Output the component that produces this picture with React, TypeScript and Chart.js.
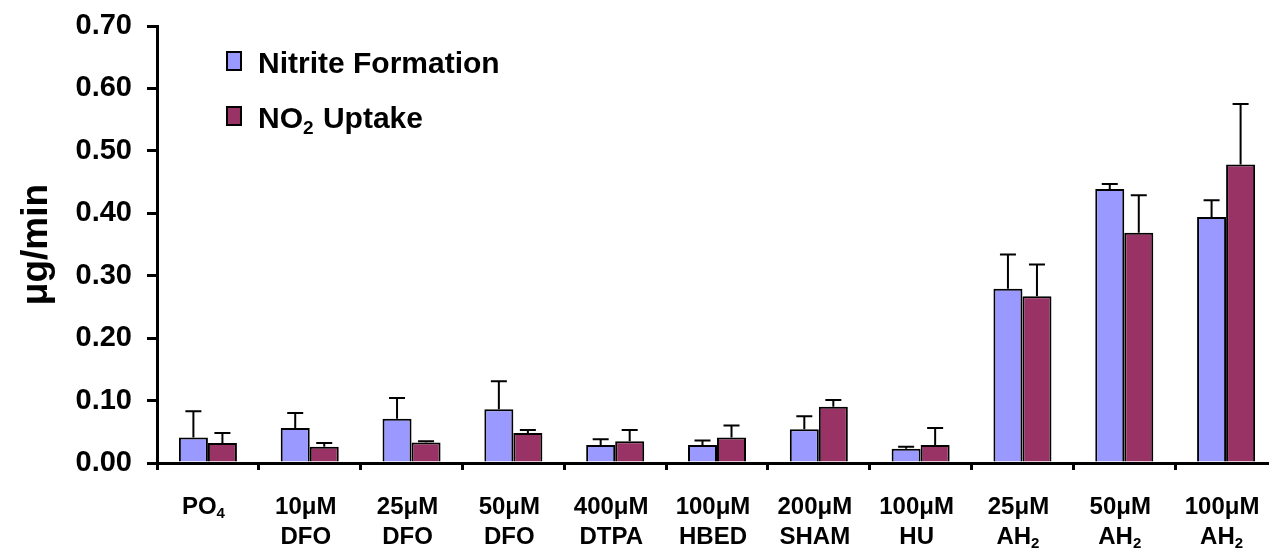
import React, { useEffect, useRef } from "react";
import { Chart, registerables } from "chart.js";

Chart.register(...registerables);

// ---- data ----
const labelLine1 = ["PO₄", "10μM", "25μM", "50μM", "400μM", "100μM", "200μM", "100μM", "25μM", "50μM", "100μM"];
const labelLine2 = ["", "DFO", "DFO", "DFO", "DTPA", "HBED", "SHAM", "HU", "AH₂", "AH₂", "AH₂"];

const nitriteValues = [0.041, 0.056, 0.071, 0.086, 0.029, 0.029, 0.054, 0.023, 0.279, 0.439, 0.394];
const nitriteErrors = [0.042, 0.024, 0.033, 0.045, 0.009, 0.007, 0.021, 0.003, 0.055, 0.008, 0.027];
const uptakeValues = [0.032, 0.026, 0.033, 0.048, 0.035, 0.041, 0.090, 0.029, 0.267, 0.369, 0.478];
const uptakeErrors = [0.016, 0.006, 0.002, 0.005, 0.018, 0.019, 0.011, 0.027, 0.051, 0.060, 0.097];

const seriesNames = ["Nitrite Formation", "NO₂ Uptake"];
const seriesColors = ["#9999FF", "#993366"];

const yMin = 0;
const yMax = 0.7;
const yStep = 0.1;
const yTitle = "μg/min";

// ---- styling ----
const FONT = "Arial, 'Liberation Sans', Helvetica, sans-serif";
const SUBS: Record<string, string> = {
  "₀": "0", "₁": "1", "₂": "2", "₃": "3", "₄": "4",
  "₅": "5", "₆": "6", "₇": "7", "₈": "8", "₉": "9",
};

function drawRich(
  ctx: CanvasRenderingContext2D,
  text: string,
  x: number,
  centerY: number,
  size: number,
  align: "left" | "center"
) {
  const segs: { t: string; sub: boolean }[] = [];
  for (const ch of Array.from(text)) {
    const sub = SUBS[ch] !== undefined;
    const c = sub ? SUBS[ch] : ch;
    const last = segs[segs.length - 1];
    if (last && last.sub === sub) last.t += c;
    else segs.push({ t: c, sub });
  }
  const subSize = Math.round(size * 0.62);
  const fontFor = (sub: boolean) => `bold ${sub ? subSize : size}px ${FONT}`;
  let total = 0;
  const widths: number[] = [];
  for (const s of segs) {
    ctx.font = fontFor(s.sub);
    const w = ctx.measureText(s.t).width + (s.sub ? 1 : 0);
    widths.push(w);
    total += w;
  }
  let cx = align === "center" ? x - total / 2 : x;
  const baseline = centerY + size * 0.36;
  ctx.save();
  ctx.fillStyle = "#000";
  ctx.textAlign = "left";
  ctx.textBaseline = "alphabetic";
  segs.forEach((s, i) => {
    ctx.font = fontFor(s.sub);
    ctx.fillText(s.t, cx, s.sub ? baseline + size * 0.2 : baseline);
    cx += widths[i];
  });
  ctx.restore();
}

const errorBarPlugin = {
  id: "errorBars",
  afterDatasetsDraw(chart: any) {
    const ctx: CanvasRenderingContext2D = chart.ctx;
    const yScale = chart.scales.y;
    const errs = [nitriteErrors, uptakeErrors];
    ctx.save();
    ctx.strokeStyle = "#000";
    ctx.lineWidth = 2;
    chart.data.datasets.forEach((ds: any, di: number) => {
      const meta = chart.getDatasetMeta(di);
      meta.data.forEach((el: any, i: number) => {
        const v = ds.data[i];
        const top = yScale.getPixelForValue(v + errs[di][i]);
        ctx.beginPath();
        ctx.moveTo(el.x, el.y);
        ctx.lineTo(el.x, top);
        ctx.moveTo(el.x - 8, top);
        ctx.lineTo(el.x + 8, top);
        ctx.stroke();
      });
    });
    ctx.restore();
  },
};

const labelsAndLegendPlugin = {
  id: "labelsLegend",
  afterDraw(chart: any) {
    const ctx: CanvasRenderingContext2D = chart.ctx;
    const xScale = chart.scales.x;
    const base = chart.chartArea.bottom;
    labelLine1.forEach((l1, i) => {
      const cx = xScale.getPixelForValue(i) - 4;
      drawRich(ctx, l1, cx, base + 42, 24, "center");
      if (labelLine2[i]) drawRich(ctx, labelLine2[i], cx, base + 72, 24, "center");
    });
    // legend
    const rows = [62, 117];
    chart.data.datasets.forEach((ds: any, di: number) => {
      const y = rows[di];
      ctx.save();
      ctx.fillStyle = seriesColors[di];
      ctx.strokeStyle = "#000";
      ctx.lineWidth = 2;
      ctx.fillRect(227, y - 10, 14, 18);
      ctx.strokeRect(227, y - 10, 14, 18);
      ctx.restore();
      drawRich(ctx, ds.label, 258, y, 30, "left");
    });
  },
};

export default function App() {
  const ref = useRef<HTMLCanvasElement | null>(null);

  useEffect(() => {
    if (!ref.current) return;
    const chart = new Chart(ref.current, {
      type: "bar",
      data: {
        labels: labelLine1.map((l, i) => [l, labelLine2[i]].join(" ")),
        datasets: [
          {
            label: seriesNames[0],
            data: nitriteValues,
            backgroundColor: seriesColors[0],
            borderColor: "#000",
            borderWidth: 2,
            categoryPercentage: 0.57,
            barPercentage: 1.0,
          },
          {
            label: seriesNames[1],
            data: uptakeValues,
            backgroundColor: seriesColors[1],
            borderColor: "#000",
            borderWidth: 2,
            categoryPercentage: 0.57,
            barPercentage: 1.0,
          },
        ],
      },
      options: {
        responsive: false,
        animation: false,
        devicePixelRatio: 1,
        layout: { padding: { top: 26, right: 0, left: 0, bottom: 0 } },
        plugins: {
          legend: { display: false },
          tooltip: { enabled: false },
        },
        scales: {
          x: {
            offset: true,
            grid: {
              display: true,
              offset: true,
              drawOnChartArea: false,
              drawTicks: true,
              tickLength: 7,
              color: "#000",
              lineWidth: 3,
            },
            border: { display: true, color: "#000", width: 3 },
            ticks: { display: false },
            afterFit: (scale: any) => {
              scale.height = 87;
              scale.paddingLeft = 0;
              scale.paddingRight = 0;
            },
          },
          y: {
            min: yMin,
            max: yMax,
            grid: {
              display: true,
              drawOnChartArea: false,
              drawTicks: true,
              tickLength: 10,
              color: "#000",
              lineWidth: 3,
            },
            border: { display: true, color: "#000", width: 3 },
            ticks: {
              stepSize: yStep,
              padding: 15,
              color: "#000",
              font: { family: FONT, size: 29, weight: "bold" },
              callback: (v: any) => Number(v).toFixed(2),
            },
            title: {
              display: true,
              text: yTitle,
              color: "#000",
              font: { family: FONT, size: 37, weight: "bold", lineHeight: 1 },
              padding: { top: 18, bottom: 0 },
            },
            afterFit: (scale: any) => {
              scale.width = 157;
              scale.paddingTop = 0;
              scale.paddingBottom = 0;
            },
          },
        },
      },
      plugins: [errorBarPlugin, labelsAndLegendPlugin],
    });
    return () => chart.destroy();
  }, []);

  return (
    <div
      style={{
        position: "absolute",
        left: 0,
        top: 0,
        width: 1269,
        height: 550,
        overflow: "hidden",
        background: "#fff",
      }}
    >
      <canvas ref={ref} width={1277} height={550} style={{ display: "block" }} />
    </div>
  );
}
